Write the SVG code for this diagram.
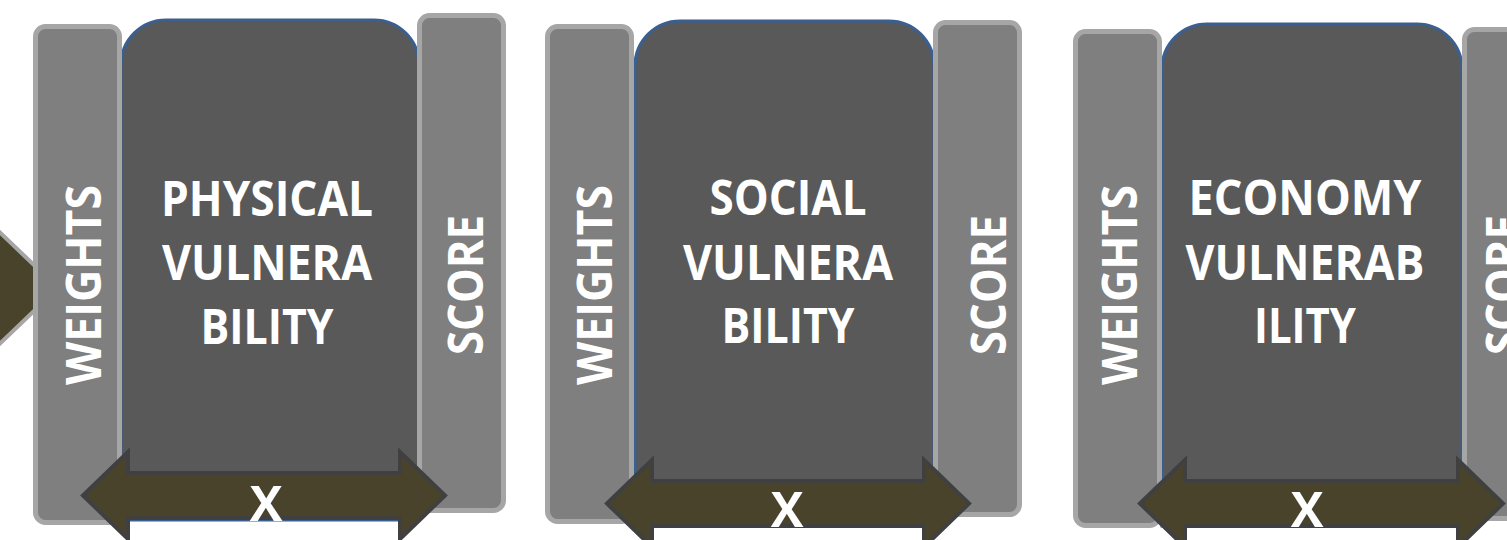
<svg xmlns="http://www.w3.org/2000/svg" width="1507" height="540" viewBox="0 0 1507 540">
  <style>
    .bar { fill: #7f7f7f; stroke: #a6a6a6; stroke-width: 5; }
    .core { fill: #595959; stroke: #3b5f8f; stroke-width: 3; }
    .arrow { fill: #4a432c; stroke: #404040; stroke-width: 4; stroke-linejoin: miter; }
    .feed { fill: #4a432c; stroke: #a6a6a6; stroke-width: 4; }
    text { font-family: "Open Sans", "Liberation Sans", sans-serif; font-weight: 700; fill: #ffffff; }
    .title { font-size: 48px; text-anchor: middle; }
    .side { font-size: 48px; text-anchor: middle; }
    .mul { font-size: 49px; text-anchor: middle; }
  </style>

  <!-- incoming arrow head on the left edge -->
  <g id="feed-arrow">
    <path class="feed" d="M -10,223 L 58,288 L -10,353 Z"/>
  </g>

  <!-- physical vulnerability block -->
  <g id="physical">
    <path class="core" d="M 121,520 L 121,65 A 45,45 0 0 1 166,20 L 374,20 A 45,45 0 0 1 419,65 L 419,520 Z"/>
    <rect class="bar" x="35.5" y="26.5" width="84" height="496" rx="10"/>
    <rect class="bar" x="419.5" y="15.5" width="84" height="495" rx="10"/>
    <text class="title" x="267" y="216" textLength="212" lengthAdjust="spacingAndGlyphs">PHYSICAL</text>
    <text class="title" x="267" y="280" textLength="210" lengthAdjust="spacingAndGlyphs">VULNERA</text>
    <text class="title" x="267" y="344" textLength="133" lengthAdjust="spacingAndGlyphs">BILITY</text>
    <text class="side" transform="translate(101,285) rotate(-90)" textLength="200" lengthAdjust="spacingAndGlyphs">WEIGHTS</text>
    <text class="side" transform="translate(483,285) rotate(-90)" textLength="140" lengthAdjust="spacingAndGlyphs">SCORE</text>
  </g>

  <!-- social vulnerability block -->
  <g id="social">
    <path class="core" d="M 635,524 L 635,66 A 45,45 0 0 1 680,21 L 889,21 A 45,45 0 0 1 934,66 L 934,524 Z"/>
    <rect class="bar" x="547.5" y="26.5" width="84" height="495" rx="10"/>
    <rect class="bar" x="935.5" y="22.5" width="84" height="492" rx="10"/>
    <text class="title" x="788" y="215" textLength="157" lengthAdjust="spacingAndGlyphs">SOCIAL</text>
    <text class="title" x="788" y="280" textLength="210" lengthAdjust="spacingAndGlyphs">VULNERA</text>
    <text class="title" x="788" y="343" textLength="133" lengthAdjust="spacingAndGlyphs">BILITY</text>
    <text class="side" transform="translate(612,285) rotate(-90)" textLength="200" lengthAdjust="spacingAndGlyphs">WEIGHTS</text>
    <text class="side" transform="translate(1006,285) rotate(-90)" textLength="140" lengthAdjust="spacingAndGlyphs">SCORE</text>
  </g>

  <!-- economy vulnerability block (score bar runs past the right edge) -->
  <g id="economy">
    <path class="core" d="M 1162,526 L 1162,69 A 45,45 0 0 1 1207,24 L 1417,24 A 45,45 0 0 1 1462,69 L 1462,526 Z"/>
    <rect class="bar" x="1075.5" y="31.5" width="84" height="494" rx="10"/>
    <rect class="bar" x="1464.5" y="29.5" width="84" height="489" rx="10"/>
    <text class="title" x="1305" y="215" textLength="233" lengthAdjust="spacingAndGlyphs">ECONOMY</text>
    <text class="title" x="1305" y="280" textLength="239" lengthAdjust="spacingAndGlyphs">VULNERAB</text>
    <text class="title" x="1305" y="343" textLength="102" lengthAdjust="spacingAndGlyphs">ILITY</text>
    <text class="side" transform="translate(1137,285) rotate(-90)" textLength="200" lengthAdjust="spacingAndGlyphs">WEIGHTS</text>
    <text class="side" transform="translate(1521,285) rotate(-90)" textLength="140" lengthAdjust="spacingAndGlyphs">SCORE</text>
  </g>

  <!-- multiplication connectors -->
  <g id="connectors">
    <path class="arrow" d="M 83,495.5 L 128,452 L 128,473 L 400,473 L 400,452 L 445,495.5 L 400,539 L 400,518 L 128,518 L 128,539 Z"/>
    <text class="mul" x="266" y="521">X</text>
    <path class="arrow" d="M 607,503.5 L 652,460 L 652,481 L 924,481 L 924,460 L 969,503.5 L 924,547 L 924,526 L 652,526 L 652,547 Z"/>
    <text class="mul" x="787" y="527">X</text>
    <path class="arrow" d="M 1140,503.5 L 1185,460 L 1185,481 L 1458,481 L 1458,460 L 1503,503.5 L 1458,547 L 1458,526 L 1185,526 L 1185,547 Z"/>
    <text class="mul" x="1307" y="527">X</text>
  </g>
</svg>
